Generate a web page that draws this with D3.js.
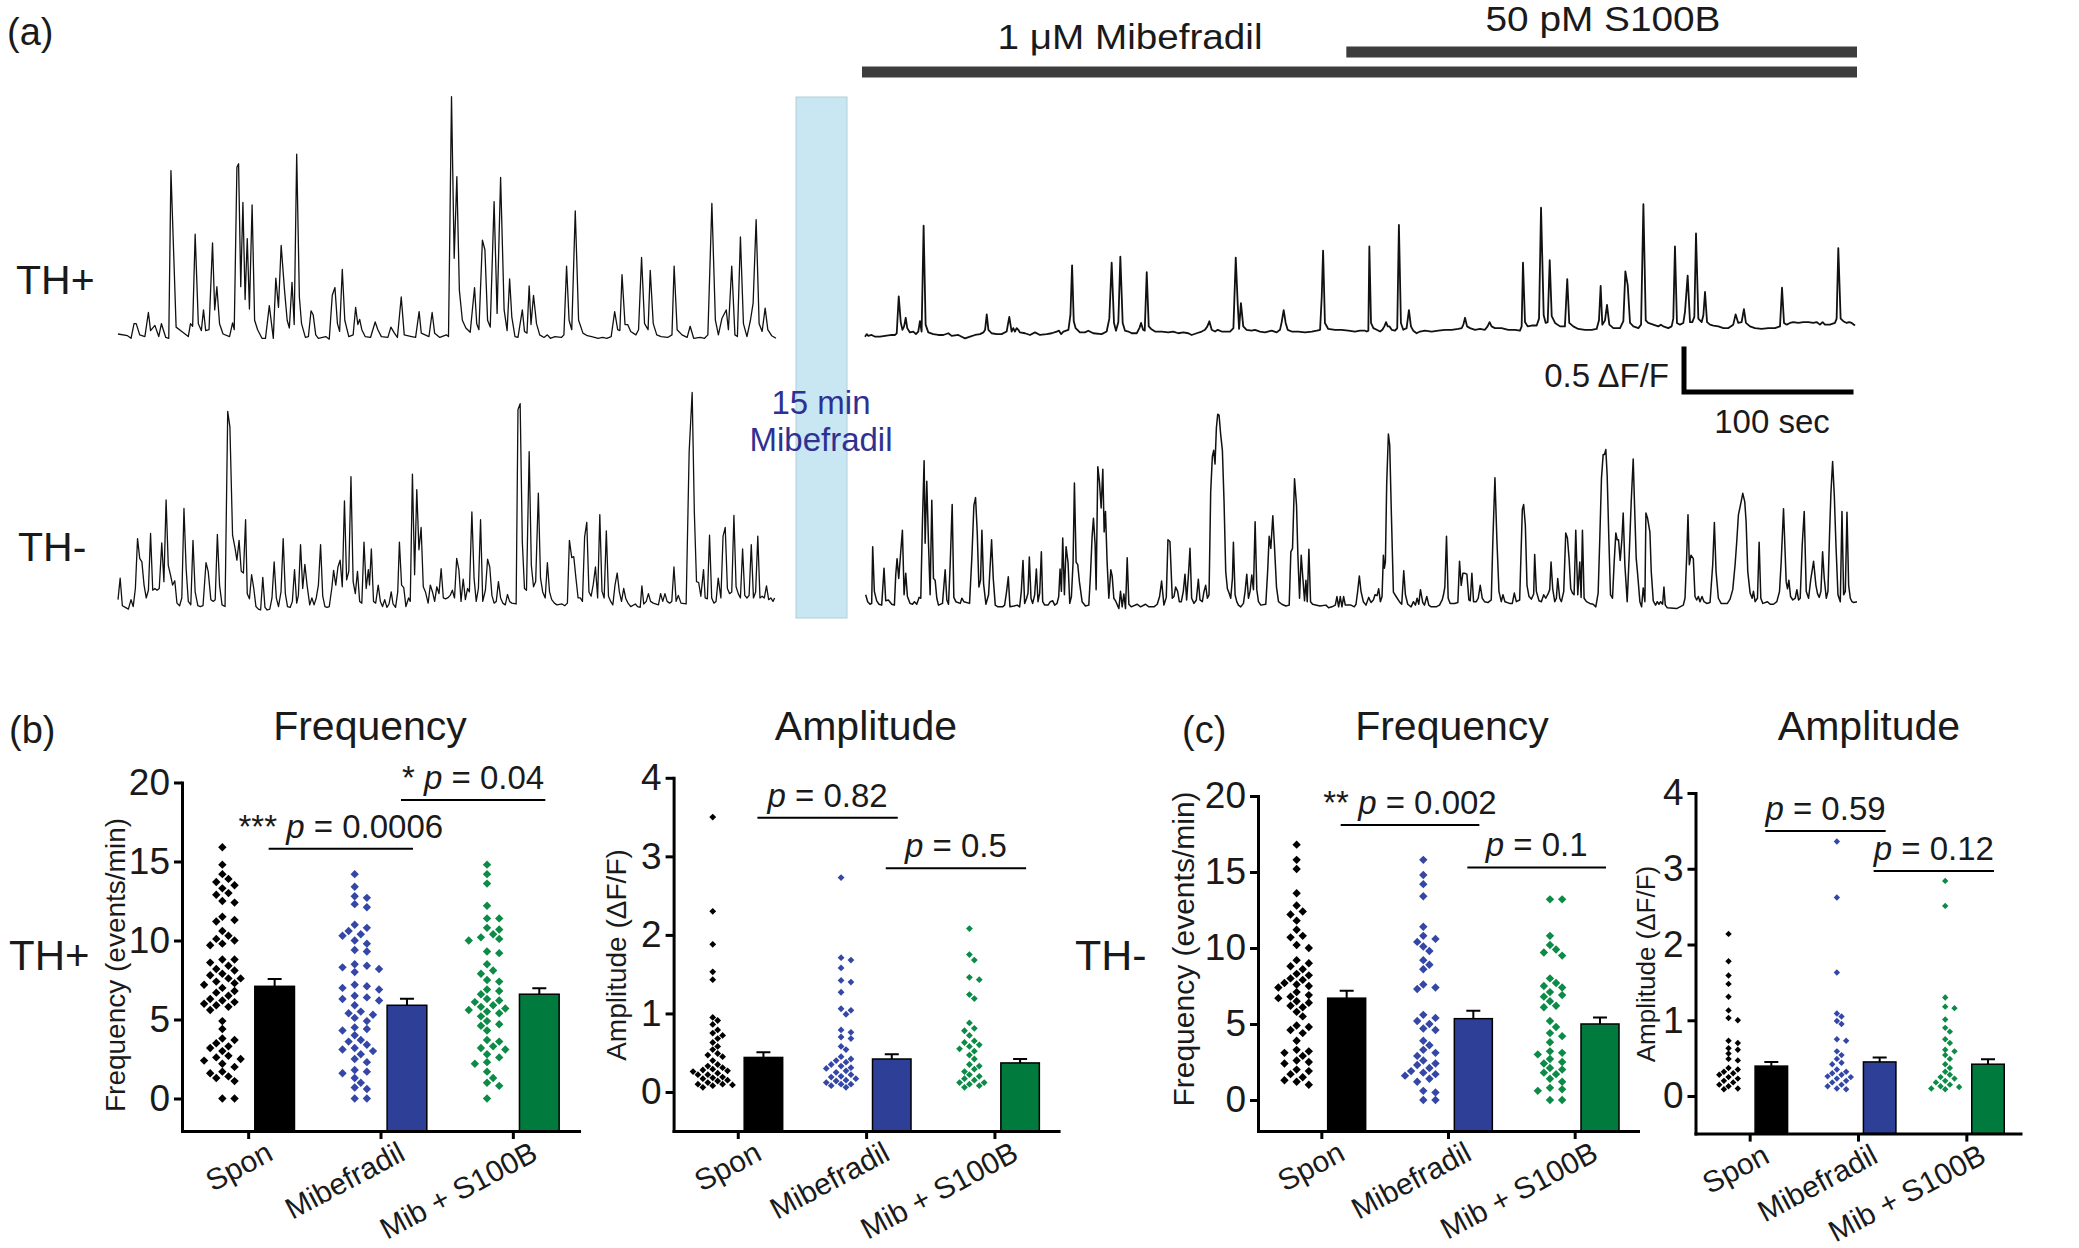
<!DOCTYPE html>
<html><head><meta charset="utf-8">
<script src="https://cdn.jsdelivr.net/npm/d3@7"></script>
<style>
html,body{margin:0;padding:0;background:#fff;}
svg text{font-family:"Liberation Sans", Arial, Helvetica, sans-serif;fill:#1a1a1a;}
</style></head><body>
<svg id="fig" width="2079" height="1248"></svg>
<script>
// ---------------- DATA ----------------
// Calcium traces: [time (s), ΔF/F]
const thPlusSpon = [[0,0.05],[5.7,0.03],[7.8,0],[9.6,0.17],[10.9,0.17],[13,0.04],[16.1,0.02],[18.2,0.30],[19.5,0.09],[22.1,0.15],[24.4,0.02],[26,0.17],[28.6,0.01],[30.4,0],[31.7,1.95],[34.8,0.13],[38.2,0.08],[42.1,0.02],[43.4,0.17],[44.7,0.14],[46.2,1.21],[48.1,0.17],[49.9,0.09],[51.2,0.33],[52.5,0.09],[54.5,0.10],[56.6,1.11],[57.9,0.33],[59.2,0.60],[60.8,0.17],[62.9,0.05],[66.8,0.02],[68.6,0.18],[69.6,0.10],[71.2,1.99],[72.2,2.03],[73.5,0.60],[74.8,1.58],[76.1,0.45],[77.4,1.16],[78.7,0.34],[80.3,1.55],[81.8,0.21],[83.6,0.10],[86.2,0],[88.3,0],[90.6,0.38],[93,0],[94.5,0.70],[96.1,0.36],[97.7,1.08],[99.7,0.56],[101.3,0.21],[102.6,0.12],[104.2,0.65],[105.5,0.16],[107,2.14],[108.6,0.48],[109.9,0.17],[112.2,0.01],[114,0.02],[115.6,0.32],[116.9,0.27],[118.4,0.04],[120,0],[124.4,0.02],[126.5,-0.01],[128.3,0.50],[129.9,0.59],[131.4,0.17],[132.7,0.08],[134.3,0.80],[135.8,0.21],[138.2,0.02],[140.8,0.04],[142.3,0.36],[143.6,0.16],[144.7,0.22],[146,0.10],[148,0.02],[151.2,0.01],[154,0.19],[155.6,0.10],[157.7,0.02],[161.6,0.01],[163.4,0.13],[165.5,0.06],[167.3,0.01],[169.6,0.48],[171.4,0.04],[175.8,0.02],[178.2,0.01],[180.3,0.31],[181.6,0.06],[186.2,0.02],[188.1,0.30],[189.6,0.06],[192.7,0.01],[196.6,0.04],[197.9,0.02],[199.7,2.81],[201.3,0.93],[202.9,1.88],[204.4,0.56],[206.2,0.21],[208.3,0.12],[210.9,0.07],[213.5,0.59],[214.8,0.17],[216.1,0.10],[218.2,1.14],[219.7,1.03],[221.3,0.21],[222.9,0.13],[225.2,1.59],[227,0.29],[229.1,1.87],[231.2,0.33],[233,0.09],[234.5,0.69],[235.8,0.25],[237.7,0.02],[239.5,0.01],[242.1,0.33],[243.4,0.08],[244.9,0.06],[246.2,0.61],[247.3,0.16],[248.8,0.50],[250.6,0.17],[252.5,0.04],[255.1,0.01],[257.1,0.04],[258.9,0],[261.6,0.02],[265.5,0.01],[267,0.04],[268.6,0.84],[270.1,0.21],[271.7,0.10],[273.8,1.48],[275.8,0.21],[278.4,0.06],[281,0.03],[283.6,0.02],[287.5,0],[290.1,0.01],[292.7,0],[295.3,0.02],[297.4,0.31],[299.2,0.10],[300.5,0.09],[301.8,0.74],[303.6,0.16],[305.2,0.16],[307,0.08],[310.1,0.04],[311.7,0.10],[313.5,0.94],[315.3,0.17],[317.4,0.10],[318.7,0.79],[320.5,0.17],[322.6,0.04],[325.2,0.02],[329.1,0.01],[331.7,0.04],[333,0.84],[334.8,0.10],[337.7,0.04],[340.8,0.01],[342.6,0.14],[344.7,0],[348.6,0.01],[351.2,0],[353.2,0.04],[355.6,1.57],[357.7,0.21],[359.5,0.04],[361.6,0.23],[364.2,0.33],[365.5,0.10],[367.5,0.84],[369.4,0.04],[370.9,0.02],[372.7,1.18],[374.5,0.17],[376.6,0.02],[378.7,0.21],[380.3,0.41],[382.1,1.38],[383.9,0.17],[385.7,0.08],[387.5,0.35],[389.1,0.10],[391.4,0.03],[394,0]];

const thPlusDrug = [[0,0],[1,0.03],[2,0.01],[4,0.02],[6,0],[9,0],[12,0.01],[16,0.02],[18,0.02],[19,0.04],[20.2,0.47],[21.4,0.17],[22.4,0.08],[23.4,0.12],[24.4,0.22],[25.3,0.10],[26.9,0.05],[28.9,0.06],[30.5,0.03],[31.9,0.06],[32.9,0.18],[33.9,0.06],[35.1,1.29],[36.3,0.14],[37.9,0.05],[40.9,0.03],[43.9,0.02],[46.9,0.02],[49.9,0.04],[51.9,0.01],[55.9,0.02],[57.9,0],[59.9,-0.02],[62.9,0],[65.9,0.02],[68.9,0.03],[70.9,0.05],[71.9,0.08],[72.9,0.26],[73.9,0.08],[75.8,0.04],[78.8,0.03],[81.8,0.03],[84.8,0.06],[86.4,0.23],[87.8,0.06],[88.8,0.10],[89.8,0.06],[90.8,0.10],[91.8,0.08],[92.8,0.05],[95.8,0.04],[98.8,0.02],[101.8,0.05],[104.8,0.02],[108.8,0.03],[111.8,0.04],[114.8,0.06],[116.2,0.07],[117.4,0.03],[118.8,0.06],[121.8,0.08],[123,0.25],[124,0.83],[125,0.18],[126.1,0.10],[128.7,0.05],[131.7,0.05],[133.7,0.07],[136.7,0.04],[141.7,0.03],[144.7,0.06],[146.3,0.21],[147.7,0.86],[149.1,0.16],[150.3,0.07],[151.7,0.17],[152.9,0.93],[154.3,0.16],[155.7,0.07],[157.7,0.06],[159.7,0.04],[162.7,0.04],[164.3,0.10],[165.3,0.16],[166.5,0.08],[167.5,0.07],[168.7,0.75],[169.9,0.12],[171.3,0.09],[173.7,0.06],[177.6,0.06],[181.6,0.05],[184.6,0.06],[187.6,0.04],[190.6,0.05],[193.6,0.04],[195.6,0.02],[198.6,0.04],[201.6,0.06],[203.6,0.08],[205,0.12],[206.2,0.18],[207.6,0.08],[209.6,0.06],[211.2,0.08],[213.6,0.06],[218.6,0.06],[220.6,0.10],[222,0.92],[223.2,0.37],[224,0.09],[225.1,0.39],[226.5,0.12],[228.5,0.08],[231.5,0.07],[233.5,0.08],[236.5,0.06],[239.5,0.05],[243.5,0.07],[246.5,0.05],[248.5,0.08],[249.5,0.17],[250.7,0.31],[251.9,0.16],[253.1,0.08],[255.5,0.06],[259.5,0.06],[263.5,0.05],[267.5,0.06],[270.5,0.07],[272.5,0.08],[273.5,0.47],[274.3,1.00],[275.4,0.16],[277.4,0.09],[281.4,0.08],[285.4,0.08],[289.4,0.07],[293.4,0.06],[296.4,0.07],[299.4,0.07],[300.4,0.06],[301.4,0.07],[302,1.05],[303,0.16],[304.4,0.10],[306.4,0.08],[308.4,0.06],[309.8,0.08],[311,0.12],[312,0.17],[313,0.12],[314,0.12],[315.4,0.08],[317.4,0.07],[318.7,0.10],[319.7,1.30],[320.9,0.16],[322.3,0.08],[324.3,0.10],[325.7,0.31],[326.9,0.12],[328.3,0.07],[330.3,0.04],[332.3,0.06],[335.3,0.07],[339.3,0.06],[343.3,0.07],[347.3,0.08],[351.3,0.08],[355.3,0.09],[357.3,0.10],[358.3,0.14],[359.3,0.22],[360.5,0.12],[362.3,0.10],[365.3,0.08],[368.3,0.09],[371.2,0.08],[372.8,0.12],[374,0.17],[375.2,0.12],[377.2,0.10],[381.2,0.10],[385.2,0.08],[389.2,0.08],[392.2,0.07],[393.2,0.12],[394,0.86],[395.2,0.17],[396.8,0.12],[399.2,0.13],[402.2,0.13],[403.6,0.21],[404.8,1.50],[406.4,0.25],[407.6,0.16],[408.8,0.17],[410,0.89],[411.2,0.24],[413.2,0.16],[416.2,0.12],[419.1,0.12],[420.5,0.67],[421.7,0.16],[424.1,0.12],[427.1,0.09],[431.1,0.08],[435.1,0.08],[438.1,0.09],[439.5,0.19],[440.5,0.59],[441.5,0.14],[443.1,0.19],[444.3,0.37],[445.7,0.14],[448.1,0.10],[452.1,0.10],[454.1,0.18],[455.3,0.76],[456.7,0.60],[458.1,0.16],[460.1,0.12],[463.1,0.10],[464.7,0.14],[466.1,1.54],[467.5,0.19],[469,0.16],[472,0.14],[475,0.12],[476.6,0.14],[478,0.12],[481,0.10],[483,0.12],[484,0.21],[485,1.05],[486.2,0.16],[488,0.14],[490,0.16],[491,0.29],[492.6,0.71],[494,0.17],[495.4,0.17],[496.6,0.23],[497.6,1.20],[499,0.21],[501,0.17],[502,0.25],[503,0.52],[504.2,0.17],[506,0.14],[508,0.13],[511,0.12],[514,0.10],[517,0.10],[519.9,0.14],[521.3,0.26],[522.9,0.16],[524.9,0.17],[526.3,0.32],[527.5,0.16],[529.9,0.12],[532.9,0.10],[536.9,0.09],[540.9,0.10],[544.9,0.10],[547.9,0.12],[549.1,0.57],[550.3,0.16],[551.9,0.14],[553.9,0.16],[555.9,0.17],[558.9,0.16],[561.9,0.17],[564.9,0.17],[567.8,0.16],[569.8,0.17],[571.8,0.14],[573.4,0.17],[574.8,0.14],[577.8,0.14],[580.8,0.16],[581.8,0.21],[582.8,1.03],[584.2,0.21],[585.8,0.18],[587.8,0.16],[589.2,0.17],[590.8,0.16],[592.8,0.13]];

const thMinusSpon = [[0,0.12],[1.3,0.37],[2.6,0.05],[4.4,0.03],[6.2,0.01],[7.8,0.12],[9.1,0.04],[10.4,0.25],[11.7,0.83],[13,0.60],[14.3,0.56],[15.6,0.29],[16.9,0.14],[18.2,0.23],[19.5,0.89],[20.8,0.23],[22.1,0.25],[23.4,0.23],[24.7,0.25],[26.2,0.78],[27.5,0.33],[28.8,1.28],[30.1,0.52],[31.4,0.41],[32.7,0.29],[34,0.34],[35.3,0.08],[36.9,0.05],[38.2,0.14],[39.5,1.18],[40.8,0.48],[42.1,0.10],[43.6,0.06],[44.9,0.81],[46.2,0.21],[47.8,0.05],[49.3,0.04],[50.9,0.05],[52.7,0.55],[54,0.45],[55.6,0.12],[57.1,0.10],[58.2,0.12],[59.5,0.88],[60.8,0.29],[62.3,0.06],[64.1,0.04],[65.7,2.31],[67,2.13],[68.6,0.87],[70.1,0.72],[71.2,0.58],[72.5,0.81],[73.8,0.45],[75.1,0.43],[76.4,1.05],[77.4,0.19],[78.7,0.13],[80,0.41],[81.3,0.25],[82.6,0.04],[84.1,0.01],[85.4,0],[86.7,0.38],[88,0.03],[89.3,0],[90.9,0.01],[92.2,0.14],[93.5,0.56],[94.8,0.14],[96.1,0.04],[97.6,0.21],[98.9,0.83],[100.2,0.19],[101.5,0.04],[103.1,0.03],[104.4,0.10],[105.7,0.47],[107,0.08],[108,0.17],[109.3,0.76],[110.6,0.25],[111.9,0.53],[113.2,0.29],[114.8,0.06],[116.1,0.14],[117.4,0.06],[118.7,0.14],[120,0.29],[121.3,0.76],[122.6,0.16],[123.9,0.04],[125.2,0.03],[126.5,0.04],[128,0.25],[129.1,0.46],[130.4,0.29],[131.7,0.50],[133,0.58],[134.3,0.27],[135.6,1.27],[136.9,0.35],[138.2,0.45],[139.5,1.55],[140.8,0.33],[142.1,0.19],[143.4,0.45],[144.7,0.10],[146,0.08],[147.3,0.79],[148.6,0.25],[149.9,0.47],[150.6,0.29],[151.7,0.71],[153,0.10],[154.3,0.08],[155.8,0.29],[157.1,0.10],[158.4,0.04],[159.7,0.12],[161,0.03],[162.3,0.07],[163.6,0.21],[164.7,0.07],[166.2,0.03],[167.5,0.21],[168.5,0.79],[169.8,0.29],[171.1,0.26],[172.4,0.04],[174,0.14],[175,0.10],[176.3,1.58],[177.6,0.41],[178.9,1.40],[180.2,0.70],[181.5,0.96],[182.8,0.27],[184.1,0.21],[185.7,0.08],[187,0.29],[188.3,0.21],[189.6,0.10],[190.9,0.27],[192.2,0.19],[193.5,0.48],[194.8,0.14],[196.1,0.13],[197.4,0.14],[198.9,0.17],[200.2,0.23],[201.5,0.14],[202.8,0.60],[204.1,0.47],[205.4,0.10],[206.7,0.36],[208,0.12],[209.3,0.25],[210.4,0.21],[211.9,1.14],[213.2,0.37],[214.5,0.10],[215.8,0.25],[217.1,1.05],[218.4,0.10],[220,0.23],[221.3,0.59],[222.6,0.50],[223.9,0.17],[225.2,0.08],[226.5,0.10],[227.8,0.33],[229.1,0.14],[230.4,0.08],[231.9,0.06],[233.2,0.18],[234.5,0.10],[235.8,0.08],[238.4,0.07],[239.5,2.33],[240.8,2.40],[242.1,0.79],[243.4,0.25],[244.6,0.23],[246.2,1.84],[247.5,0.52],[248.8,0.27],[250.1,0.33],[251.7,1.36],[253,0.37],[254.3,0.21],[255.8,0.14],[257.1,0.55],[258.4,0.21],[259.7,0.12],[261.3,0.08],[262.8,0.06],[265.9,0.07],[267.5,0.05],[269.1,0.08],[270.3,0.81],[271.7,0.61],[272.9,0.62],[274.2,0.37],[275.5,0.14],[276.8,0.14],[278.1,0.10],[279.4,0.85],[280.7,1.02],[282,0.21],[283.3,0.16],[284.6,0.30],[285.9,0.50],[287.2,0.14],[288.5,1.11],[289.8,0.22],[291.1,0.14],[292.4,0.92],[293.7,0.16],[295,0.10],[296.3,0.06],[297.6,0.29],[298.9,0.43],[300.2,0.21],[301.5,0.10],[302.8,0.25],[304.1,0.13],[305.4,0.08],[307,0.04],[309.8,0.07],[311.1,0.04],[312.7,0.03],[313.7,0.28],[314.8,0.07],[316.3,0.10],[317.6,0.19],[318.9,0.10],[320.5,0.08],[323.6,0.06],[324.9,0.19],[326.2,0.10],[327.5,0.19],[328.8,0.10],[330.3,0.08],[331.6,0.10],[332.9,0.50],[334.2,0.10],[335.5,0.17],[337.1,0.08],[340.2,0.07],[342,1.84],[343.8,2.53],[345.1,1.14],[346.4,0.33],[347.7,0.32],[349,0.16],[350.6,0.47],[351.6,0.14],[352.9,0.13],[354.2,0.87],[355.5,0.14],[356.8,0.08],[358.1,0.10],[359.4,0.37],[361,0.14],[362.3,0.86],[363.6,0.96],[364.9,0.25],[366.2,0.19],[367.5,0.21],[368.8,1.10],[370.1,0.27],[371.4,0.19],[372.7,0.14],[374,0.71],[375.3,0.17],[376.6,0.14],[377.9,0.17],[379.2,0.76],[380.5,0.14],[381.8,0.21],[383.1,0.86],[384.4,0.14],[385.7,0.16],[387,0.14],[388.3,0.28],[389.6,0.12],[390.9,0.14],[392.2,0.10],[393.2,0.14]];

const thMinusDrug = [[0.4,0.15],[1.6,0.07],[3,0.04],[4,0.05],[4.6,0.71],[5.6,0.19],[7,0.08],[8.4,0.04],[10,0.03],[11.4,0.46],[12.4,0.08],[14,0.09],[16,0.04],[17.6,0.03],[18.4,0.38],[19.2,0.57],[20.2,0.34],[21.4,0.65],[22.4,0.90],[23.4,0.15],[24.4,0.40],[25.4,0.13],[27,0.05],[28.4,0.04],[29.6,0.07],[31,0.04],[32.4,0.12],[33.4,0.11],[34.4,1.00],[35.4,1.71],[36,0.75],[37,1.47],[38,0.76],[39,0.15],[40,1.25],[41,0.34],[42,0.32],[43,0.11],[44,0.03],[46.4,0.05],[48,0.44],[49,0.09],[50,0.04],[51,0.50],[52.2,1.20],[53.2,0.12],[54.4,0.07],[57,0.05],[58,0.11],[59.2,0.07],[62.6,0.05],[64,0.59],[65.2,1.19],[66.2,1.28],[67.2,0.88],[68.2,0.24],[69.2,0.32],[70,0.90],[71,0.28],[72.4,0.04],[74,0.15],[75.8,0.79],[76.8,0.34],[78,0.03],[79.6,0.01],[82.4,0.01],[83.6,0.03],[84.8,0.19],[85.8,0.36],[86.8,0.01],[89.2,0.02],[91.2,0.03],[92.6,0.01],[93.6,0.19],[94.6,0.55],[95.6,0.05],[96.8,0.11],[97.6,0.17],[98.4,0.59],[99.4,0.11],[100.4,0.05],[101.6,0.15],[102.6,0.45],[103.6,0.07],[104.6,0.17],[105.6,0.65],[106.4,0.07],[107.6,0.03],[109.6,0.03],[111,0.07],[112.4,0.08],[113.6,0.03],[115,0.05],[116,0.13],[116.8,0.45],[117.6,0.19],[118.4,0.81],[119.4,0.15],[120.4,0.71],[121.6,0.52],[122.6,0.05],[123.6,0.13],[124.6,0.53],[125.4,1.45],[126.4,0.53],[127.4,0.50],[128.4,0.30],[130,0.07],[132,0.02],[134,0.03],[135,0.38],[136,0.83],[136.8,1.04],[137.8,0.73],[138.4,0.21],[139.4,1.64],[140.4,1.46],[141.4,1.16],[142.4,1.61],[143.2,0.88],[144,1.12],[145,0.52],[146,0.11],[147.2,0.44],[148,0.37],[149,0.11],[150,0.08],[152,-0.01],[153,0.19],[154,0.01],[155,0.16],[156,-0.01],[157,0.58],[158,0.04],[159.4,0.01],[163,0.04],[165,0.01],[168,0.04],[170,0.01],[173,0.01],[175,0.04],[176.4,0.13],[177.6,0.31],[179,0.03],[180.4,0.12],[181.4,0.79],[182.6,0.77],[184,0.11],[185,0.13],[186,0.24],[187.2,0.19],[188.2,0.07],[189.4,0.07],[190.6,0.19],[191.6,0.39],[192.6,0.09],[193.8,0.42],[194.6,0.69],[195.6,0.11],[197,0.05],[198.4,0.09],[199.6,0.33],[200.6,0.09],[202,0.07],[203,0.19],[204,0.26],[205,0.11],[206,0.15],[207,1.35],[208,1.76],[208.8,1.83],[209.6,1.67],[210.4,2.09],[211.2,2.25],[212,2.24],[213,2.01],[214,1.83],[215,1.23],[216,0.42],[217,0.22],[218,0.17],[219,0.11],[220,0.34],[220.6,0.76],[221.6,0.15],[222.6,0.07],[223.6,0.03],[225,0.01],[226.6,0.05],[227.6,0.19],[228.6,0.39],[229.6,0.11],[230.6,0.19],[231.6,0.38],[232.6,0.21],[233.6,1.00],[234.6,0.21],[235.6,0.07],[237,0.03],[240,0.04],[241.2,0.46],[242,0.83],[243,0.69],[244.2,1.07],[245.2,0.71],[246.4,0.24],[247.6,0.07],[249.6,0.04],[252,0.02],[254,0.03],[255,0.65],[256,0.69],[257.2,1.50],[258.4,1.19],[259.2,0.61],[260.2,0.11],[261.2,0.61],[262.2,0.34],[263.2,0.08],[264,0.32],[264.8,0.07],[265.8,0.68],[266.8,0.07],[268,0.04],[272.4,0.02],[276,0.03],[277.6,0],[279.6,0.01],[281.6,0.03],[282.6,0.13],[283.6,0.01],[284.6,0.13],[285.6,0.01],[286.6,0.13],[287.6,0.03],[291,0.03],[293,0.01],[294,0.04],[295,0.19],[296,0.37],[297,0.19],[298.4,0.07],[300,0.03],[301.6,0.12],[303,0.06],[304.4,0.09],[305.4,0.15],[306.6,0.14],[307.6,0.22],[308.6,0.07],[309.6,0.13],[310.4,0.61],[311,0.46],[311.6,0.53],[312.4,1.45],[313.4,2.02],[314.2,1.89],[315.2,1.08],[316.4,0.18],[318,0.13],[320,0.07],[321.4,0.04],[322.6,0.43],[323.6,0.15],[325,0.04],[327,0.01],[328.4,0.07],[329.6,0.03],[330.6,0.11],[331.6,0.04],[332.6,0.21],[334,0.06],[335,0.03],[336.4,0.13],[337.6,0.03],[339,0.01],[342,0.01],[344,0.03],[345.6,0.09],[346.4,0.15],[347.2,0.24],[348.2,0.83],[349.2,0.11],[350.4,0.05],[353,0.05],[355,0.06],[356,0.54],[357,0.26],[358,0.40],[359,0.40],[360.4,0.39],[361.6,0.09],[362.4,0.08],[363.4,0.40],[364.4,0.07],[366,0.07],[367.2,0.11],[368.4,0.26],[369.6,0.11],[371,0.07],[373,0.06],[375,0.09],[376,0.81],[377.2,1.51],[378.4,0.77],[379.6,0.19],[381,0.07],[382,0.15],[383.2,0.07],[386,0.05],[387.6,0.05],[388.8,0.17],[390,0.07],[392,0.09],[393.6,1.14],[394.4,1.20],[395.4,0.96],[396.4,0.26],[397.6,0.13],[399,0.10],[400.4,0.16],[401,0.62],[402,0.19],[403.6,0.08],[405,0.07],[406.4,0.15],[407.6,0.11],[409,0.16],[410,0.21],[410.8,0.53],[411.8,0.22],[413,0.07],[414,0.11],[414.8,0.34],[416,0.11],[417,0.07],[418.4,0.19],[419.6,0.87],[420.6,0.81],[421.6,0.57],[422.6,0.22],[423.6,0.17],[424.6,0.15],[425.6,0.90],[426.8,0.15],[428,0.53],[428.8,0.12],[429.6,0.90],[430.6,0.11],[432,0.07],[434,0.05],[436,0.04],[437.6,0.01],[439,0.17],[440,0.81],[441,1.51],[442,1.78],[442.8,1.78],[443.6,1.84],[444.4,1.54],[445.4,0.81],[446.4,0.15],[447.6,0.11],[448.6,0.53],[449.6,0.87],[450.4,0.79],[451.2,0.79],[452.2,0.55],[453.2,0.79],[454,1.10],[455,0.50],[456.4,0.07],[457.6,0.61],[458.8,1.23],[460,1.73],[460.8,1.19],[461.8,0.57],[462.6,0.40],[464,0.07],[465,0.01],[466,0.23],[467,0.07],[467.6,1.10],[468.6,1.04],[470,0.88],[470.8,0.42],[472,0.08],[473.4,0.03],[474.4,0.07],[475.4,0.04],[476.4,0.07],[477.6,0.04],[478.4,0.24],[479.2,0.03],[480.4,0],[486,-0.01],[488,0.01],[490,0.03],[491,0.11],[492,0.59],[492.8,1.08],[493.6,0.50],[494.6,0.61],[496,0.57],[497,0.13],[498,0.09],[499,0.13],[500,0.07],[501.2,0.13],[502.4,0.07],[504,0.05],[506,0.06],[507.6,0.50],[508.6,0.99],[509.6,0.42],[511,0.11],[512.6,0.05],[516.4,0.05],[518,0.10],[519.6,0.21],[521,0.50],[522,0.77],[523,1.08],[524.6,1.23],[525.6,1.33],[526.8,1.23],[527.6,1.00],[528.6,0.42],[530,0.17],[531.2,0.11],[532,0.19],[533,0.07],[534.4,0.11],[535.4,0.76],[536.4,0.11],[537.6,0.05],[540.4,0.07],[542,0.04],[544,0.04],[546,0.07],[547.6,0.19],[548.6,0.53],[550,1.15],[551.6,0.30],[552.4,0.22],[553.2,0.32],[554.2,0.13],[555.6,0.09],[557,0.11],[558,0.21],[559,0.09],[560,0.11],[561.2,0.73],[562.4,1.12],[563.6,0.19],[565,0.11],[566.4,0.34],[568,0.54],[569.4,0.26],[570.4,0.16],[571.4,0.12],[572.4,0.19],[573.4,0.65],[574.4,0.34],[575.6,0.11],[576.6,0.19],[577.6,0.88],[578.4,1.34],[579.4,1.70],[580.4,1.31],[581.4,0.73],[582.6,0.15],[584,0.07],[585,1.12],[586,0.15],[587,0.19],[588,1.11],[589,0.26],[590,0.11],[591,0.07],[592,0.06],[594,0.07]];

// Drug application periods (s, on the post-incubation time axis)
const drugLabels = ["1 μM Mibefradil", "50 pM S100B"];
const drugStart = [0, 290];
const drugEnd = [594, 594];

// Scale bar values
const scaleBarDFF = 0.5;
const scaleBarSec = 100;

// Bottom panels
const groups = ["Spon", "Mibefradil", "Mib + S100B"];

// TH+ frequency (events/min)
const freqTHpSpon = [15.9,14.8,14.2,13.9,13.7,13.5,13.3,13.0,12.9,12.5,12.4,11.5,11.3,11.2,10.6,10.3,10.1,10.0,9.8,9.7,8.8,8.8,8.6,8.4,8.2,8.1,7.9,7.8,7.6,7.6,7.4,7.3,7.2,7.0,6.8,6.7,6.5,6.3,6.2,6.1,6.0,5.9,5.8,5.6,4.9,4.4,3.8,3.7,3.5,3.3,3.2,3.0,2.7,2.6,2.5,2.4,2.2,2.0,1.7,1.6,1.4,1.3,1.1,0,0];
const freqTHpMib = [14.2,13.4,12.8,12.7,12.3,12.1,11.0,10.8,10.6,10.4,10.3,10.0,9.8,9.4,9.3,8.5,8.4,8.3,8.2,8.0,7.2,7.1,7.0,6.9,6.5,6.4,6.3,6.2,5.9,5.5,5.4,5.3,5.1,4.9,4.5,4.4,4.3,4.0,3.7,3.6,3.4,3.2,3.1,3.0,2.8,2.5,2.3,1.8,1.7,1.6,1.3,1.0,0.7,0.6,0,0];
const freqTHpMibS = [14.8,14.2,13.6,12.2,11.4,11.4,10.8,10.7,10.4,10.2,10.1,10.0,9.3,9.2,8.5,8.1,7.9,7.5,7.4,6.9,6.8,6.6,6.3,6.2,6.1,5.9,5.8,5.7,5.6,5.5,5.4,5.2,4.9,4.7,4.6,4.3,3.7,3.6,3.3,3.2,3.1,2.8,2.6,2.3,2.2,1.7,1.3,1.0,0.8,0];
const freqTHpMean = [7.1, 5.9, 6.6];
const freqTHpSem = [0.46, 0.41, 0.37];
const freqTHpStars = ["***", "*"];
const freqTHpP = ["0.0006", "0.04"];

// TH+ amplitude (ΔF/F)
const ampTHpSpon = [3.5,2.3,1.88,1.53,1.43,0.95,0.91,0.86,0.79,0.75,0.72,0.68,0.63,0.58,0.54,0.49,0.47,0.45,0.40,0.35,0.33,0.31,0.29,0.27,0.26,0.24,0.22,0.19,0.17,0.15,0.12,0.10,0.08,0.06,0.28,0.22,0.18,0.14,0.10,0.09];
const ampTHpMib = [2.73,1.71,1.68,1.58,1.42,1.40,1.27,1.06,1.04,0.99,0.79,0.76,0.70,0.68,0.58,0.54,0.45,0.42,0.40,0.38,0.35,0.33,0.31,0.27,0.25,0.22,0.19,0.17,0.15,0.12,0.10,0.08,0.06,0.30,0.20,0.14,0.10];
const ampTHpMibS = [2.08,1.75,1.68,1.46,1.43,1.24,1.19,0.88,0.81,0.78,0.72,0.65,0.63,0.58,0.55,0.52,0.47,0.42,0.35,0.33,0.29,0.26,0.22,0.17,0.15,0.12,0.10,0.08,0.06,0.60,0.20,0.12];
const ampTHpMean = [0.44, 0.42, 0.37];
const ampTHpSem = [0.065, 0.06, 0.05];
const ampTHpStars = ["", ""];
const ampTHpP = ["0.82", "0.5"];

// TH- frequency (events/min)
const freqTHmSpon = [16.8,15.8,15.2,13.6,12.8,12.4,12.2,11.8,11.2,10.8,10.7,10.2,10.0,9.2,9.0,8.8,8.6,8.3,8.2,8.0,7.9,7.7,7.6,7.5,7.4,7.1,6.9,6.8,6.7,6.5,6.4,6.2,6.1,5.8,5.5,4.9,4.8,4.6,4.4,3.9,3.3,3.2,3.1,2.9,2.6,2.5,2.4,2.0,1.9,1.7,1.5,1.3,1.2,1.0];
const freqTHmMib = [15.8,14.8,14.2,13.4,11.4,10.8,10.6,10.4,10.1,9.8,9.2,8.9,8.6,7.6,7.4,7.3,5.6,5.4,5.2,5.0,4.7,4.6,3.9,3.6,3.3,3.1,2.9,2.6,2.4,2.3,2.1,1.9,1.8,1.7,1.6,1.4,1.2,0.6,0.5,0,0];
const freqTHmMibS = [13.2,13.2,10.8,10.2,9.9,9.7,9.5,8.0,7.7,7.5,7.4,7.1,6.9,6.8,6.5,6.2,6.1,5.2,4.8,4.4,4.2,3.8,3.2,3.1,3.0,2.7,2.5,2.4,2.1,2.0,1.8,1.7,1.4,1.2,0.8,0.7,0.6,0,0];
const freqTHmMean = [6.7, 5.35, 5.0];
const freqTHmSem = [0.48, 0.52, 0.43];
const freqTHmStars = ["**", ""];
const freqTHmP = ["0.002", "0.1"];

// TH- amplitude (ΔF/F)
const ampTHmSpon = [2.14,1.78,1.59,1.48,1.31,1.13,1.03,1.0,0.73,0.7,0.63,0.61,0.56,0.49,0.47,0.37,0.35,0.32,0.28,0.23,0.18,0.13,0.09,0.30,0.25,0.20,0.15,0.10];
const ampTHmMib = [3.36,2.62,1.63,1.09,1.05,0.99,0.95,0.75,0.73,0.59,0.54,0.49,0.44,0.42,0.35,0.32,0.28,0.25,0.23,0.20,0.18,0.13,0.09,0.30,0.26,0.15,0.10];
const ampTHmMibS = [2.84,2.51,1.30,1.18,1.16,1.01,0.90,0.85,0.75,0.70,0.61,0.59,0.54,0.49,0.42,0.37,0.32,0.28,0.23,0.20,0.18,0.13,0.09,0.25,0.15,0.12,0.10];
const ampTHmMean = [0.395, 0.45, 0.42];
const ampTHmSem = [0.055, 0.06, 0.065];
const ampTHmStars = ["", ""];
const ampTHmP = ["0.59", "0.12"];

// ---------------- DRAWING ----------------
const svg = d3.select("#fig");
svg.append("rect").attr("width",2079).attr("height",1248).attr("fill","#fff");
const FONT = '"Liberation Sans", Arial, Helvetica, sans-serif';

function txt(g, x, y, s, size, anchor, extra){
  const t = g.append("text").attr("x",x).attr("y",y).attr("font-size",size)
    .attr("text-anchor",anchor||"start").text(s);
  if (extra) extra(t);
  return t;
}

// ----- Panel (a) -----
const A = svg.append("g");
txt(A, 7, 45, "(a)", 38);
txt(A, 16, 294, "TH+", 41);
txt(A, 18, 561, "TH-", 41);

const xLeft = d3.scaleLinear().domain([0,394]).range([118,776]);
const xRight = d3.scaleLinear().domain([0,594]).range([865,1857]);
const pxPerDFF = 86;
function yTrace(base){ return d3.scaleLinear().domain([0,1]).range([base, base-pxPerDFF]); }
const traces = [
  {data: thPlusSpon, x: xLeft, y: yTrace(338.3), w: 1.3},
  {data: thPlusDrug, x: xRight, y: yTrace(336.7), w: 1.8},
  {data: thMinusSpon, x: xLeft, y: yTrace(610), w: 1.3},
  {data: thMinusDrug, x: xRight, y: yTrace(607.7), w: 1.5}
];
traces.forEach(T=>{
  A.append("path").datum(T.data)
    .attr("d", d3.line().x(d=>T.x(d[0])).y(d=>T.y(d[1])))
    .attr("fill","none").attr("stroke","#111").attr("stroke-width",T.w)
    .attr("stroke-linejoin","round");
});

// incubation box
A.append("rect").attr("x",796).attr("y",97).attr("width",51).attr("height",521)
  .attr("fill","#c8e7f3").attr("stroke","#b4cdd6").attr("stroke-width",1);
txt(A, 821, 414, "15 min", 33, "middle", t=>t.style("fill","#2e3192"));
txt(A, 821, 451, "Mibefradil", 33, "middle", t=>t.style("fill","#2e3192"));

// drug bars
const barY = [72, 52];
drugLabels.forEach((lab,i)=>{
  A.append("rect").attr("x", xRight(drugStart[i])-3).attr("y", barY[i]-5.5)
    .attr("width", xRight(drugEnd[i]) - xRight(drugStart[i]) + 3).attr("height", 11)
    .attr("fill","#3d3d3d");
});
txt(A, 1130, 49, drugLabels[0], 35, "middle", t=>t.attr("textLength",265).attr("lengthAdjust","spacingAndGlyphs"));
txt(A, 1603, 31, drugLabels[1], 35, "middle", t=>t.attr("textLength",235).attr("lengthAdjust","spacingAndGlyphs"));

// scale bar
const sbX = 1684, sbY = 392;
const sbW = xRight(scaleBarSec) - xRight(0);
const sbH = pxPerDFF * scaleBarDFF;
A.append("path").attr("d", `M${sbX},${sbY-sbH}V${sbY}H${sbX+sbW}`)
  .attr("fill","none").attr("stroke","#000").attr("stroke-width",5).attr("stroke-linecap","square");
txt(A, 1669, 387, scaleBarDFF + " ΔF/F", 33, "end");
txt(A, 1772, 433, scaleBarSec + " sec", 33, "middle");

// ----- Bottom panels -----
const B = svg.append("g");
txt(B, 9, 743, "(b)", 38);
txt(B, 1182, 743, "(c)", 38);
txt(B, 9, 970, "TH+", 42);
txt(B, 1075, 970, "TH-", 43);

const barFill = ["#000000", "#2e3f98", "#007a3d"];
const ptFill = ["#000000", "#3447a6", "#0b8b46"];

const panels = [
  {vals:[freqTHpSpon,freqTHpMib,freqTHpMibS], mean:freqTHpMean, sem:freqTHpSem, stars:freqTHpStars, p:freqTHpP,
   x0:182, x1:579, yBottom:1131, yTop:782.5, yDomain:[-2.057,20], ticks:[0,5,10,15,20], r:4.2,
   title:"Frequency", titleX:370, yTitle:"Frequency (events/min)", yTitleX:115, yTitleY:965, yTitleSize:28, levels:[15.8,18.9]},
  {vals:[ampTHpSpon,ampTHpMib,ampTHpMibS], mean:ampTHpMean, sem:ampTHpSem, stars:ampTHpStars, p:ampTHpP,
   x0:673.6, x1:1058.6, yBottom:1131, yTop:777.8, yDomain:[-0.4965,4], ticks:[0,1,2,3,4], r:3.4,
   title:"Amplitude", titleX:866, yTitle:"Amplitude (ΔF/F)", yTitleX:616, yTitleY:955, yTitleSize:28, levels:[3.49,2.85]},
  {vals:[freqTHmSpon,freqTHmMib,freqTHmMibS], mean:freqTHmMean, sem:freqTHmSem, stars:freqTHmStars, p:freqTHmP,
   x0:1258, x1:1638, yBottom:1131, yTop:796, yDomain:[-2.04,20], ticks:[0,5,10,15,20], r:4.2,
   title:"Frequency", titleX:1452, yTitle:"Frequency (events/min)", yTitleX:1183, yTitleY:949, yTitleSize:30, levels:[18.1,15.3]},
  {vals:[ampTHmSpon,ampTHmMib,ampTHmMibS], mean:ampTHmMean, sem:ampTHmSem, stars:ampTHmStars, p:ampTHmP,
   x0:1695.5, x1:2020.5, yBottom:1133.6, yTop:793, yDomain:[-0.496,4], ticks:[0,1,2,3,4], r:3.2,
   title:"Amplitude", titleX:1869, yTitle:"Amplitude (ΔF/F)", yTitleX:1646, yTitleY:964, yTitleSize:26, levels:[3.5,2.97]}
];

function swarm(values, y, cx, r){
  const pts = values.map(v=>({v, py:y(v)})).sort((a,b)=>a.py-b.py);
  const placed = [];
  const step = r*1.45;
  const minD = r*1.65;
  pts.forEach(p=>{
    for (let k=0;k<60;k++){
      const off = k===0 ? 0 : (k%2 ? 1 : -1)*Math.ceil(k/2)*step;
      const px = cx + off;
      if (placed.every(q => (q.px-px)*(q.px-px) + (q.py-p.py)*(q.py-p.py) >= minD*minD)){
        p.px = px; placed.push(p); break;
      }
    }
  });
  return placed;
}

panels.forEach(P=>{
  const g = B.append("g");
  const x = d3.scalePoint().domain(groups).range([P.x0, P.x1]).padding(0.5);
  const y = d3.scaleLinear().domain(P.yDomain).range([P.yBottom, P.yTop]);
  const step = x.step();
  const bw = 0.3*step;
  const barC = gname => x(gname) + 0.2*step;
  const dotC = gname => x(gname) - 0.195*step;

  // title
  txt(g, P.titleX, 740, P.title, 41, "middle");

  // bars + error bars
  groups.forEach((gn,i)=>{
    const cx = barC(gn);
    g.append("rect").attr("x", cx-bw/2).attr("y", y(P.mean[i]))
      .attr("width", bw).attr("height", P.yBottom - y(P.mean[i]))
      .attr("fill", barFill[i]).attr("stroke","#000").attr("stroke-width",1.5);
    const yt = y(P.mean[i] + P.sem[i]);
    g.append("path").attr("d", `M${cx},${y(P.mean[i])}V${yt}M${cx-7},${yt}H${cx+7}`)
      .attr("stroke","#000").attr("stroke-width",2).attr("fill","none");
  });

  // scatter diamonds
  groups.forEach((gn,i)=>{
    const pts = swarm(P.vals[i], y, dotC(gn), P.r);
    const r = P.r;
    g.selectAll(null).data(pts).enter().append("path")
      .attr("d", d=>`M${d.px},${d.py-r}L${d.px+r},${d.py}L${d.px},${d.py+r}L${d.px-r},${d.py}Z`)
      .attr("fill", ptFill[i]);
  });

  // axes
  const ya = g.append("g").attr("transform",`translate(${P.x0},0)`)
    .call(d3.axisLeft(y).tickValues(P.ticks).tickFormat(d3.format("d")).tickSize(8).tickSizeOuter(0).tickPadding(4));
  const xa = g.append("g").attr("transform",`translate(0,${P.yBottom})`)
    .call(d3.axisBottom(x).tickSize(8).tickSizeOuter(0).tickFormat(""));
  [ya, xa].forEach(a=>{
    a.select(".domain").attr("stroke","#000").attr("stroke-width",3).attr("stroke-linecap","square");
    a.selectAll(".tick line").attr("stroke","#000").attr("stroke-width",3);
    a.selectAll("text").attr("font-size",37).attr("font-family",FONT).style("fill","#1a1a1a");
  });

  // x labels rotated
  groups.forEach(gn=>{
    g.append("text").attr("transform",`translate(${x(gn)+0.2*step},${P.yBottom+28}) rotate(-28)`)
      .attr("text-anchor","end").attr("font-size",30).text(gn);
  });

  // y title
  g.append("text").attr("transform",`translate(${P.yTitleX},${P.yTitleY}) rotate(-90)`)
    .attr("text-anchor","middle").attr("dominant-baseline","central")
    .attr("font-size",P.yTitleSize).text(P.yTitle);

  // significance annotations
  P.p.forEach((pv,k)=>{
    const xa0 = barC(groups[k]) - 6, xb0 = barC(groups[k+1]) + 6;
    const ly = y(P.levels[k]);
    g.append("line").attr("x1",xa0).attr("x2",xb0).attr("y1",ly).attr("y2",ly)
      .attr("stroke","#000").attr("stroke-width",2);
    const t = g.append("text").attr("x",(xa0+xb0)/2).attr("y",ly-11)
      .attr("text-anchor","middle").attr("font-size",33);
    if (P.stars[k]) t.append("tspan").text(P.stars[k] + " ");
    t.append("tspan").attr("font-style","italic").text("p");
    t.append("tspan").text(" = " + pv);
  });
});
</script></body></html>
